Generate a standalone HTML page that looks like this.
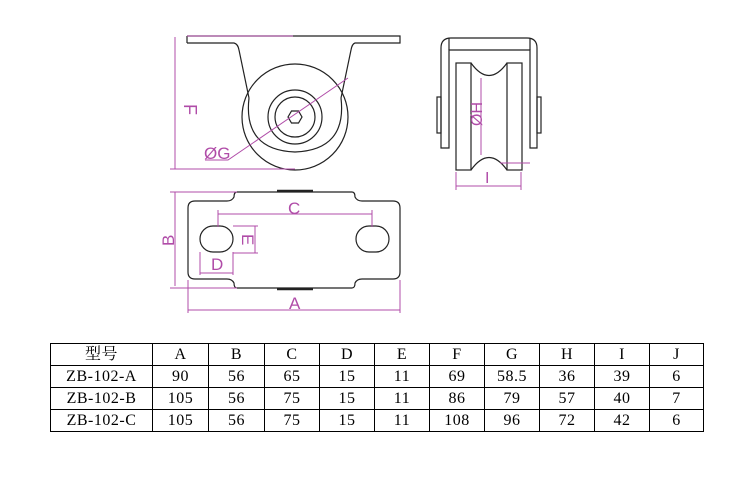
<!DOCTYPE html>
<html><head><style>
body{margin:0;background:#fff;width:750px;height:488px;overflow:hidden}
svg{position:absolute;left:0;top:0}
table{position:absolute;left:50px;top:343px;border-collapse:collapse;font-family:"Liberation Serif","Noto Serif CJK SC",serif;font-size:16px;letter-spacing:0.5px}
td{border:1px solid #000;height:21px;padding:0;text-align:center;line-height:21px}
</style></head><body>
<svg width="750" height="488" fill="none" stroke="#222" stroke-width="1.2">
<!-- top view -->
<path d="M187 36H400V43H355Q352 44 351 50L341 98"/>
<path d="M187 43V36M187 43H234Q238 44 239 50L249 98"/>
<circle cx="295" cy="117" r="53" stroke="#222"/>
<path d="M249 98Q243 150 295 152Q347 150 341 98"/>
<circle cx="295" cy="117" r="27"/><circle cx="295" cy="117" r="20"/>
<polygon points="288,117 291.5,111 298.5,111 302,117 298.5,123 291.5,123"/>
<g stroke="#b04ca8" stroke-width="1">
<path d="M187 36H293M175 37V169M170 169H295M348 78L228 160H205"/>
</g>
<text x="186" y="102" transform="rotate(90 184 102)" fill="#b04ca8" stroke="none" font-family="Liberation Sans" font-size="18">F</text>
<text x="204" y="159" fill="#b04ca8" stroke="none" font-family="Liberation Sans" font-size="17">ØG</text>
<!-- side view -->
<path d="M441 148V48Q441 38 451 38H527Q537 38 537 48V148H530V50H449V148Z"/>
<path d="M449 38V50M530 38V50"/>
<rect x="437" y="97" width="4" height="36"/><rect x="537" y="97" width="4" height="36"/>
<rect x="456" y="63" width="15" height="107"/><rect x="507" y="63" width="15" height="107"/>
<path d="M471 63Q489 88 507 63M471 170Q489 145 507 170"/>
<g stroke="#b04ca8" stroke-width="1">
<path d="M481 78V155M456 172V190M521 172V190M456 186H521M500 163H530"/>
</g>
<text x="474" y="118" transform="rotate(-90 482 118)" fill="#b04ca8" stroke="none" font-family="Liberation Sans" font-size="16">ØH</text>
<text x="485" y="183" fill="#b04ca8" stroke="none" font-family="Liberation Sans" font-size="16">I</text>
<!-- bottom view -->
<path d="M237 192H352Q355 192 355 197Q357 201 362 201H393Q400 201 400 208V272Q400 279 393 279H362Q357 279 355 283Q355 288 352 288H237Q234 288 234 283Q232 279 227 279H195Q188 279 188 272V208Q188 201 195 201H227Q232 201 234 197Q234 192 237 192Z"/>
<path d="M277 191H313M277 289H313" stroke-width="2.5"/>
<rect x="200" y="226" width="33" height="26" rx="13"/>
<rect x="356" y="226" width="33" height="26" rx="13"/>
<g stroke="#b04ca8" stroke-width="1">
<path d="M218 214H372M218 210V227M372 210V227M255 226V253M233 226H258M233 253H258M200 273H233M200 252V275M233 252V275M175 192V286M170 192H237M170 288H237M188 310H400M188 280V313M400 280V313"/>
</g>
<text x="288" y="214" fill="#b04ca8" stroke="none" font-family="Liberation Sans" font-size="17">C</text>
<text x="242" y="246" transform="rotate(90 248 240)" fill="#b04ca8" stroke="none" font-family="Liberation Sans" font-size="17">E</text>
<text x="211" y="270" fill="#b04ca8" stroke="none" font-family="Liberation Sans" font-size="17">D</text>
<text x="160" y="244" transform="rotate(-90 168 238)" fill="#b04ca8" stroke="none" font-family="Liberation Sans" font-size="17">B</text>
<text x="289" y="309" fill="#b04ca8" stroke="none" font-family="Liberation Sans" font-size="17">A</text>
</svg>
<table>
<tr><td style="width:101px">型号</td><td style="width:55px">A</td><td style="width:55px">B</td><td style="width:54px">C</td><td style="width:54px">D</td><td style="width:54px">E</td><td style="width:54px">F</td><td style="width:54px">G</td><td style="width:54px">H</td><td style="width:54px">I</td><td style="width:53px">J</td></tr>
<tr><td>ZB-102-A</td><td>90</td><td>56</td><td>65</td><td>15</td><td>11</td><td>69</td><td>58.5</td><td>36</td><td>39</td><td>6</td></tr>
<tr><td>ZB-102-B</td><td>105</td><td>56</td><td>75</td><td>15</td><td>11</td><td>86</td><td>79</td><td>57</td><td>40</td><td>7</td></tr>
<tr><td>ZB-102-C</td><td>105</td><td>56</td><td>75</td><td>15</td><td>11</td><td>108</td><td>96</td><td>72</td><td>42</td><td>6</td></tr>
</table>
</body></html>
